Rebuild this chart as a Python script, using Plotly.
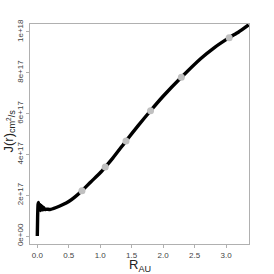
import plotly.graph_objects as go

r_au = [0.0, 0.005, 0.012, 0.02, 0.03, 0.04, 0.05, 0.06, 0.07, 0.08, 0.09, 0.10, 0.12, 0.15, 0.2, 0.3, 0.4, 0.5, 0.6, 0.71, 0.85, 1.0, 1.08, 1.2, 1.41, 1.6, 1.80, 2.0, 2.29, 2.6, 2.8, 3.05, 3.2, 3.36]
j_e17 = [0.0, 0.9, 1.55, 1.65, 1.3, 1.55, 1.25, 1.5, 1.3, 1.45, 1.28, 1.4, 1.3, 1.32, 1.3, 1.40, 1.53, 1.69, 1.92, 2.22, 2.65, 3.1, 3.38, 3.82, 4.66, 5.4, 6.14, 6.85, 7.78, 8.7, 9.2, 9.72, 10.0, 10.35]

marker_r = [0.71, 1.08, 1.41, 1.80, 2.29, 3.05]
marker_j = [2.22, 3.38, 4.66, 6.14, 7.78, 9.72]

ytick_vals = [0, 2, 4, 6, 8, 10]
ytick_text = ["0e+00", "2e+17", "4e+17", "6e+17", "8e+17", "1e+18"]
xtick_vals = [0.0, 0.5, 1.0, 1.5, 2.0, 2.5, 3.0]
xtick_text = ["0.0", "0.5", "1.0", "1.5", "2.0", "2.5", "3.0"]

x_title = "R<sub>AU</sub>"
y_title = "J(r)<sub>cm<sup>2</sup>/s</sub>"

fig = go.Figure()
fig.add_trace(go.Scatter(x=r_au, y=j_e17, mode="lines",
                         line=dict(color="black", width=3.4, shape="spline", smoothing=0.5),
                         hoverinfo="skip"))
fig.add_trace(go.Scatter(x=marker_r, y=marker_j, mode="markers",
                         marker=dict(color="#c0c0c0", size=7, line=dict(width=0))))

font = "Arial, Liberation Sans, sans-serif"
fig.update_layout(
    width=274, height=274,
    margin=dict(l=30, r=25, t=24, b=30),
    paper_bgcolor="white", plot_bgcolor="white",
    showlegend=False,
    font=dict(family=font, color="#333333"),
    xaxis=dict(range=[-0.116, 3.365], tickvals=xtick_vals, ticktext=xtick_text,
               automargin=False,
               showgrid=False, zeroline=False, showline=True, mirror=True,
               linecolor="#b0b0b0", linewidth=1, ticks="outside", ticklen=3,
               tickcolor="#b0b0b0", tickfont=dict(size=8, color="#444444", family=font)),
    yaxis=dict(range=[-0.39, 10.39], tickvals=ytick_vals, ticktext=ytick_text,
               automargin=False,
               showgrid=False, zeroline=False, showline=True, mirror=True,
               linecolor="#b0b0b0", linewidth=1, ticks="outside", ticklen=3,
               tickcolor="#b0b0b0", tickangle=-90, tickfont=dict(size=8, color="#444444", family=font)),
    annotations=[
        dict(text=x_title, xref="paper", yref="paper", x=0.5, y=0, xanchor="center",
             yanchor="middle", yshift=-21, showarrow=False,
             font=dict(size=13, color="#222222", family=font)),
        dict(text=y_title, xref="paper", yref="paper", x=0, y=0.5, xanchor="center",
             yanchor="middle", xshift=-21.5, yshift=3, textangle=-90, showarrow=False,
             font=dict(size=13, color="#222222", family=font)),
    ],
)
fig.write_html("out.html", config={"displayModeBar": False},
               post_script="document.body.style.margin='0';")
